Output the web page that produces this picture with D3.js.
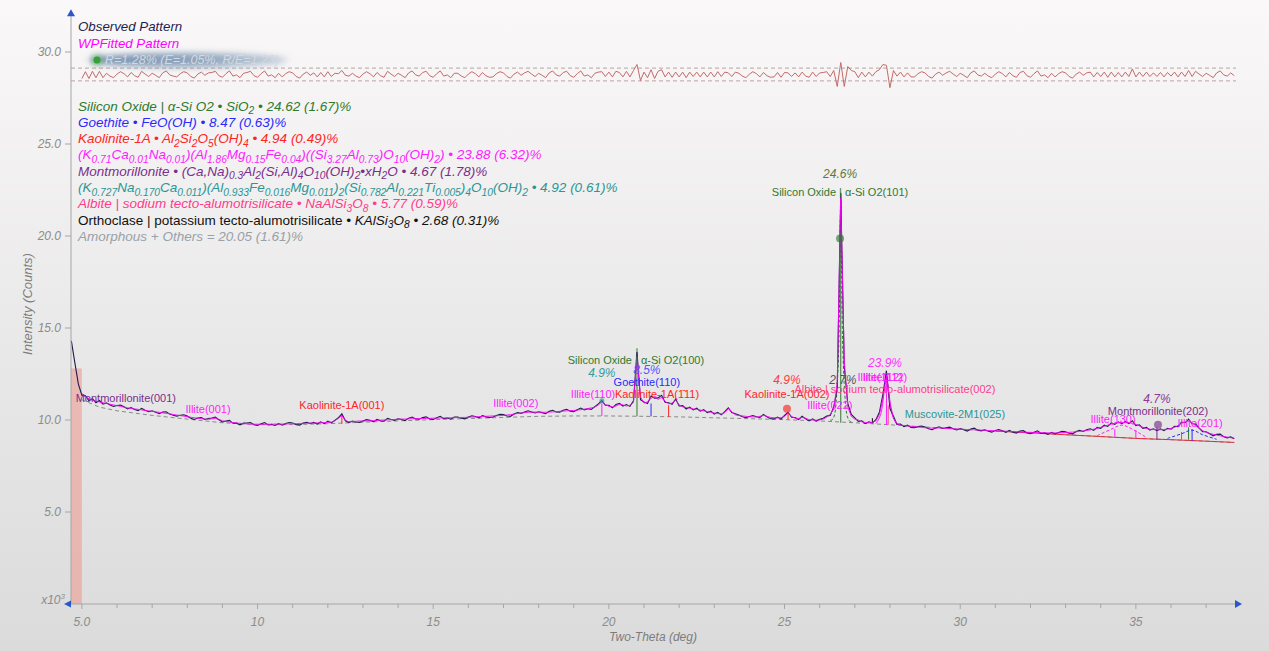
<!DOCTYPE html>
<html>
<head>
<meta charset="utf-8">
<script src="https://cdn.jsdelivr.net/npm/d3@7"></script>
<style>
  html, body { margin: 0; padding: 0; background: #eeeeee; }
  svg { display: block; font-family: "Liberation Sans", Arial, sans-serif; }
</style>
</head>
<body>
<svg id="chart" width="1269" height="651"></svg>
<script>
// scan grid: 2-theta starts at 4.7 deg, 0.1 deg per step
const thetaStart = 4.7, thetaStep = 0.1;

// observed intensity, x10^3 counts
const observed = [
  14.3, 13.1, 11.95, 11.35, 11.32, 11.05, 11.16, 10.94, 11.06, 10.86,
  10.93, 10.82, 10.74, 10.79, 10.81, 10.72, 10.6, 10.68, 10.57, 10.51,
  10.63, 10.53, 10.45, 10.5, 10.42, 10.34, 10.43, 10.45, 10.32, 10.26,
  10.21, 10.26, 10.28, 10.22, 10.1, 10.03, 10.11, 10.13, 10.03, 10.08,
  10.11, 10.16, 10.01, 9.89, 9.94, 9.98, 9.82, 9.83, 9.74, 9.83,
  9.84, 9.86, 9.74, 9.7, 9.79, 9.86, 9.73, 9.76, 9.7, 9.81,
  9.72, 9.81, 9.86, 9.84, 9.75, 9.72, 9.83, 9.88, 9.81, 9.87,
  9.78, 9.9, 9.8, 9.94, 9.84, 9.98, 10.12, 10.34, 9.96, 9.86,
  9.94, 9.89, 9.87, 9.95, 10.02, 9.98, 9.91, 10.03, 9.96, 9.93,
  10.09, 10.03, 9.98, 10.07, 10.03, 9.97, 10.1, 10.16, 10.06, 10.04,
  10.13, 10.17, 10.06, 10.03, 10.12, 10.2, 10.07, 10.11, 10.04, 10.16,
  10.16, 10.1, 10.06, 10.16, 10.23, 10.19, 10.12, 10.24, 10.17, 10.14,
  10.16, 10.25, 10.31, 10.29, 10.22, 10.2, 10.33, 10.41, 10.36, 10.44,
  10.5, 10.44, 10.38, 10.45, 10.4, 10.34, 10.47, 10.53, 10.44, 10.43,
  10.53, 10.58, 10.48, 10.45, 10.56, 10.65, 10.55, 10.61, 10.58, 10.73,
  10.88, 11.05, 10.8, 10.8, 10.66, 10.84, 10.9, 10.76, 10.84, 10.74,
  11.05, 13.7, 11.1, 10.98, 10.9, 11.3, 11.18, 11.2, 11.34, 10.96,
  10.94, 10.85, 11.14, 10.76, 10.78, 10.6, 10.7, 10.55, 10.64, 10.48,
  10.56, 10.4, 10.48, 10.32, 10.42, 10.28, 10.46, 10.66, 10.4, 10.34,
  10.27, 10.18, 10.12, 10.19, 10.24, 10.18, 10.14, 10.3, 10.17, 10.07,
  10.06, 10.16, 10.05, 10.25, 10.42, 10.15, 10.14, 10.02, 10.2, 10.06,
  9.95, 10.06, 9.94, 10.04, 10.1, 10.22, 10.25, 10.7, 11.7, 22.35,
  12.9, 10.9, 10.3, 10.12, 9.92, 9.96, 9.8, 9.9, 9.84, 10.02,
  10.42, 11.4, 12.68, 10.62, 10.2, 9.76, 9.78, 9.64, 9.72, 9.6,
  9.58, 9.64, 9.67, 9.62, 9.52, 9.47, 9.57, 9.63, 9.54, 9.58,
  9.61, 9.53, 9.46, 9.53, 9.47, 9.4, 9.51, 9.56, 9.45, 9.41,
  9.47, 9.39, 9.34, 9.43, 9.48, 9.42, 9.33, 9.43, 9.34, 9.29,
  9.4, 9.42, 9.3, 9.26, 9.34, 9.41, 9.27, 9.3, 9.22, 9.33,
  9.24, 9.32, 9.38, 9.36, 9.28, 9.25, 9.37, 9.44, 9.38, 9.47,
  9.52, 9.44, 9.6, 9.55, 9.72, 9.65, 9.84, 9.76, 9.9, 9.8,
  9.92, 9.8, 9.96, 9.7, 9.74, 9.55, 9.6, 9.45, 9.52, 9.42,
  9.52, 9.42, 9.55, 9.5, 9.66, 9.64, 9.88, 9.85, 10.05, 9.8,
  9.78, 9.56, 9.37, 9.36, 9.25, 9.14, 9.22, 9.23, 9.09, 9.03,
  9.08, 8.98
];

// whole-pattern fit, same grid (nothing below 5.0 deg: excluded range)
const fitted = [
  null, null, null, 11.45, 11.25, 11.15, 11.08, 11.02, 10.98, 10.94,
  10.9, 10.86, 10.82, 10.78, 10.74, 10.7, 10.66, 10.63, 10.6, 10.58,
  10.55, 10.52, 10.5, 10.47, 10.44, 10.42, 10.39, 10.36, 10.33, 10.3,
  10.27, 10.24, 10.21, 10.18, 10.15, 10.12, 10.1, 10.07, 10.05, 10.04,
  10.06, 10.08, 10.04, 9.96, 9.92, 9.89, 9.86, 9.84, 9.82, 9.8,
  9.79, 9.78, 9.77, 9.77, 9.77, 9.77, 9.77, 9.77, 9.78, 9.78,
  9.78, 9.79, 9.79, 9.8, 9.8, 9.81, 9.82, 9.82, 9.83, 9.83,
  9.84, 9.85, 9.86, 9.87, 9.89, 9.95, 10.1, 10.24, 9.98, 9.9,
  9.91, 9.93, 9.95, 9.94, 9.95, 9.96, 9.97, 9.98, 9.99, 10.0,
  10.01, 10.02, 10.03, 10.04, 10.05, 10.05, 10.06, 10.07, 10.07, 10.08,
  10.08, 10.09, 10.09, 10.1, 10.1, 10.11, 10.11, 10.12, 10.12, 10.13,
  10.13, 10.14, 10.14, 10.15, 10.16, 10.17, 10.18, 10.19, 10.2, 10.21,
  10.22, 10.23, 10.24, 10.25, 10.27, 10.29, 10.32, 10.35, 10.38, 10.4,
  10.42, 10.43, 10.43, 10.42, 10.42, 10.42, 10.43, 10.44, 10.45, 10.47,
  10.48, 10.5, 10.51, 10.52, 10.54, 10.56, 10.59, 10.62, 10.66, 10.7,
  10.82, 10.98, 10.85, 10.74, 10.72, 10.76, 10.85, 10.82, 10.76, 10.8,
  10.95, 13.45, 11.25, 10.92, 10.98, 11.18, 11.28, 11.12, 11.22, 11.02,
  10.88, 10.92, 11.08, 10.82, 10.72, 10.68, 10.64, 10.6, 10.58, 10.54,
  10.5, 10.46, 10.42, 10.38, 10.35, 10.33, 10.4, 10.62, 10.45, 10.28,
  10.24, 10.22, 10.2, 10.18, 10.17, 10.16, 10.2, 10.25, 10.2, 10.14,
  10.12, 10.11, 10.12, 10.2, 10.38, 10.2, 10.1, 10.08, 10.14, 10.1,
  10.02, 10.0, 9.99, 10.0, 10.05, 10.15, 10.3, 10.6, 12.0, 22.05,
  13.2, 10.7, 10.2, 10.05, 10.0, 9.9, 9.86, 9.84, 9.88, 9.95,
  10.3, 11.15, 12.45, 10.95, 10.1, 9.8, 9.72, 9.7, 9.68, 9.66,
  9.64, 9.62, 9.6, 9.58, 9.57, 9.56, 9.56, 9.57, 9.56, 9.54,
  9.53, 9.52, 9.51, 9.5, 9.49, 9.48, 9.47, 9.47, 9.46, 9.45,
  9.44, 9.43, 9.42, 9.42, 9.41, 9.4, 9.39, 9.38, 9.37, 9.36,
  9.35, 9.34, 9.33, 9.33, 9.32, 9.32, 9.31, 9.31, 9.3, 9.3,
  9.3, 9.3, 9.31, 9.32, 9.33, 9.34, 9.36, 9.38, 9.4, 9.43,
  9.46, 9.5, 9.55, 9.6, 9.66, 9.72, 9.78, 9.82, 9.85, 9.86,
  9.86, 9.85, 9.82, 9.76, 9.68, 9.6, 9.54, 9.5, 9.48, 9.47,
  9.47, 9.48, 9.5, 9.54, 9.6, 9.7, 9.82, 9.9, 9.95, 9.85,
  9.7, 9.55, 9.42, 9.33, 9.27, 9.22, 9.18, 9.14, 9.1, 9.07,
  9.04, 9.01
];

// background, [2theta, intensity]
const background = [
  [5.0, 11.1], [5.5, 10.7], [6, 10.5], [7, 10.25], [8, 10.05], [9, 9.85], [10, 9.75],
  [11, 9.75], [12, 9.8], [13, 9.88], [14, 9.95], [15, 10.02], [16, 10.08], [17, 10.14],
  [18, 10.2], [19, 10.22], [20, 10.22], [21, 10.2], [22, 10.17], [23, 10.12], [24, 10.07],
  [25, 10.02], [26, 9.95], [27, 9.85], [28, 9.74], [29, 9.62], [30, 9.5], [31, 9.4],
  [32, 9.3], [33, 9.2], [34, 9.1], [35, 9.0], [36, 8.93], [37, 8.85], [37.8, 8.78]
];

// a few single-phase profiles
const quartzProfile = [[26.3, 10.0], [26.45, 10.6], [26.55, 14.5], [26.6, 22.0], [26.65, 14.5], [26.75, 10.6], [26.9, 9.9]];
const illiteProfile112 = [[27.6, 9.8], [27.75, 10.4], [27.85, 11.8], [27.9, 12.4], [27.95, 11.8], [28.05, 10.4], [28.2, 9.75]];
const illiteProfile130 = [[33.9, 9.15], [34.3, 9.5], [34.6, 9.72], [34.9, 9.5], [35.3, 9.05]];
const goethiteProfile = [[35.9, 9.0], [36.3, 9.25], [36.6, 9.45], [36.9, 9.2], [37.3, 8.95]];

// reflection sticks: [phase, 2theta, top]
const sticks = [
  ["quartz", 20.8, 13.9], ["quartz", 26.6, 22.3], ["quartz", 36.5, 9.6],
  ["goethite", 21.2, 10.9], ["goethite", 36.6, 9.5],
  ["kaolinite", 12.4, 10.3], ["kaolinite", 21.7, 10.8], ["kaolinite", 25.1, 10.4],
  ["illite", 19.8, 10.9], ["illite", 27.9, 12.6], ["illite", 34.4, 9.5], ["illite", 35.0, 9.45], ["illite", 36.3, 9.35],
  ["montmorillonite", 35.6, 9.6], ["orthoclase", 27.5, 10.1], ["albite", 27.95, 10.8]
];

// peak labels: [text, 2theta, intensity, phase]
const peakLabels = [
  ["Montmorillonite(001)", 6.25, 10.99, "montmorillonite"],
  ["Illite(001)", 8.59, 10.39, "illite"],
  ["Kaolinite-1A(001)", 12.4, 10.61, "kaolinite"],
  ["Illite(002)", 17.35, 10.72, "illite"],
  ["Silicon Oxide | α-Si O2(100)", 20.77, 13.06, "quartz"],
  ["Goethite(110)", 21.08, 11.86, "goethite"],
  ["Illite(110)", 19.55, 11.21, "illite"],
  ["Kaolinite-1A(1̄11)", 21.37, 11.21, "kaolinite"],
  ["Kaolinite-1A(002)", 25.07, 11.21, "kaolinite"],
  ["Albite | sodium tecto-alumotrisilicate(002)", 28.14, 11.48, "albite"],
  ["Illite(022)", 26.29, 10.61, "illite"],
  ["Silicon Oxide | α-Si O2(101)", 26.58, 22.2, "quartz"],
  ["Illite(112)", 27.86, 12.14, "illite"],
  ["Illite(1̄12)", 27.72, 12.14, "illite"],
  ["Muscovite-2M1(025)", 29.85, 10.12, "muscovite"],
  ["Montmorillonite(202)", 35.63, 10.29, "montmorillonite"],
  ["Illite(130)", 34.35, 9.85, "illite"],
  ["Illite(201)", 36.83, 9.63, "illite"]
];

// phase percentage labels: [text, 2theta, intensity, phase]
const pctLabels = [
  ["24.6%", 26.58, 23.13, "quartz"],
  ["4.9%", 19.8, 12.35, "muscovite"],
  ["8.5%", 21.08, 12.52, "goethite"],
  ["4.9%", 25.07, 11.97, "kaolinite"],
  ["2.7%", 26.66, 11.97, "orthoclase"],
  ["23.9%", 27.86, 12.9, "illite"],
  ["4.7%", 35.6, 10.94, "montmorillonite"]
];

// dots on strongest peaks: [2theta, intensity, phase]
const peakDots = [[26.58, 19.86, "quartz"], [25.07, 10.61, "kaolinite"], [35.63, 9.74, "montmorillonite"], [19.8, 11.05, "muscovite"]];

// phase list text, _{..} marks subscripts
const phaseLines = [
  ["Silicon Oxide | α-Si O2 • SiO_{2} • 24.62 (1.67)%", "quartz"],
  ["Goethite • FeO(OH) • 8.47 (0.63)%", "goethite"],
  ["Kaolinite-1A • Al_{2}Si_{2}O_{5}(OH)_{4} • 4.94 (0.49)%", "kaolinite"],
  ["(K_{0.71}Ca_{0.01}Na_{0.01})(Al_{1.86}Mg_{0.15}Fe_{0.04})((Si_{3.27}Al_{0.73})O_{10}(OH)_{2}) • 23.88 (6.32)%", "illite"],
  ["Montmorillonite • (Ca,Na)_{0.3}Al_{2}(Si,Al)_{4}O_{10}(OH)_{2}•xH_{2}O • 4.67 (1.78)%", "montmorillonite"],
  ["(K_{0.727}Na_{0.170}Ca_{0.011})(Al_{0.933}Fe_{0.016}Mg_{0.011})_{2}(Si_{0.782}Al_{0.221}Ti_{0.005})_{4}O_{10}(OH)_{2} • 4.92 (0.61)%", "muscovite"],
  ["Albite | sodium tecto-alumotrisilicate • NaAlSi_{3}O_{8} • 5.77 (0.59)%", "albite"],
  ["Orthoclase | potassium tecto-alumotrisilicate • KAlSi_{3}O_{8} • 2.68 (0.31)%", "orthoclase"],
  ["Amorphous + Others = 20.05 (1.61)%", "amorphous"]
];

const yTicks = [5, 10, 15, 20, 25, 30];
const xMajorTicks = [5, 10, 15, 20, 25, 30, 35];
const xTickLabels = ["5.0", "10", "15", "20", "25", "30", "35"];
const excluded = [4.69, 5.0];

const colors = {
  quartz: "#2f7a2f", goethite: "#2a2aff", kaolinite: "#ff2424", illite: "#ff1cff",
  montmorillonite: "#7a2e8c", muscovite: "#2a9696", albite: "#ff3c8c", orthoclase: "#111111",
  amorphous: "#98a0a8"
};
const pctColors = {
  quartz: "#5c7a3c", muscovite: "#3a9a9a", goethite: "#5555ff", kaolinite: "#ff3a3a",
  orthoclase: "#555555", illite: "#ff33ff", montmorillonite: "#8a3a9a"
};

const svg = d3.select("#chart");
const defs = svg.append("defs");
const bg = defs.append("linearGradient").attr("id", "bg").attr("x1", 0).attr("y1", 0).attr("x2", 0).attr("y2", 1);
bg.append("stop").attr("offset", "0%").attr("stop-color", "#faf8f8");
bg.append("stop").attr("offset", "100%").attr("stop-color", "#dbdbdb");
defs.append("filter").attr("id", "blur").attr("x", "-20%").attr("y", "-100%").attr("width", "140%").attr("height", "300%")
  .append("feGaussianBlur").attr("stdDeviation", 3);
const hl = defs.append("linearGradient").attr("id", "hl");
hl.append("stop").attr("offset", "0%").attr("stop-color", "#6a88ab").attr("stop-opacity", 0.95);
hl.append("stop").attr("offset", "60%").attr("stop-color", "#8099b6").attr("stop-opacity", 0.85);
hl.append("stop").attr("offset", "100%").attr("stop-color", "#9cb1c8").attr("stop-opacity", 0.6);

svg.append("rect").attr("width", 1269).attr("height", 651).attr("fill", "url(#bg)");

const x = d3.scaleLinear().domain([4.69, 37.85]).range([71, 1236]);
const y = d3.scaleLinear().domain([0, 32]).range([604, 15.2]);
const rY = d3.scaleLinear().domain([-0.4, 0.4]).range([90.5, 58.5]);
const theta = i => thetaStart + i * thetaStep;

// excluded region
svg.append("rect")
  .attr("x", x(excluded[0])).attr("width", x(excluded[1]) - x(excluded[0]))
  .attr("y", y(12.8)).attr("height", y(0) - y(12.8))
  .attr("fill", "#ec9b92").attr("opacity", 0.6);

// residual band
[-0.16, 0.16].forEach(v => {
  svg.append("line").attr("x1", x.range()[0]).attr("x2", x.range()[1])
    .attr("y1", rY(v)).attr("y2", rY(v))
    .attr("stroke", "#bca2a2").attr("stroke-dasharray", "4,3").attr("stroke-width", 1);
});
const resid = observed.map((d, i) => fitted[i] == null ? null : d - fitted[i]);
svg.append("path")
  .attr("d", d3.line().defined(d => d != null).x((d, i) => x(theta(i))).y(d => rY(d))(resid))
  .attr("fill", "none").attr("stroke", "#c46a6a").attr("stroke-width", 1);

const lineXY = d3.line().x(d => x(d[0])).y(d => y(d[1]));

// background
svg.append("path").attr("d", lineXY(background))
  .attr("fill", "none").attr("stroke", "#8a8a8a").attr("stroke-dasharray", "4,3").attr("stroke-width", 1);
svg.append("path").attr("d", lineXY(background.filter(d => d[0] >= 31)))
  .attr("fill", "none").attr("stroke", "#e0303a").attr("stroke-width", 1);

// sticks
svg.selectAll(".stick").data(sticks).enter().append("line")
  .attr("x1", d => x(d[1])).attr("x2", d => x(d[1]))
  .attr("y1", d => y(d3.least(background, b => Math.abs(b[0] - d[1]))[1]))
  .attr("y2", d => y(d[2]))
  .attr("stroke", d => colors[d[0]]).attr("stroke-width", 1);

// single-phase profiles
[[quartzProfile, "quartz", "3,2"], [illiteProfile112, "illite", null], [illiteProfile130, "illite", "3,2"], [goethiteProfile, "goethite", "3,2"]]
  .forEach(([p, ph, dash]) => {
    svg.append("path").attr("d", d3.line().curve(d3.curveCardinal).x(d => x(d[0])).y(d => y(d[1]))(p))
      .attr("fill", "none").attr("stroke", colors[ph]).attr("stroke-width", 1)
      .attr("stroke-dasharray", dash);
  });

// observed and fitted
svg.append("path")
  .attr("d", d3.line().x((d, i) => x(theta(i))).y(d => y(d))(observed))
  .attr("fill", "none").attr("stroke", "#1c1c4e").attr("stroke-width", 1.1);
svg.append("path")
  .attr("d", d3.line().defined(d => d != null).x((d, i) => x(theta(i))).y(d => y(d))(fitted))
  .attr("fill", "none").attr("stroke", "#ff00ff").attr("stroke-width", 1).attr("opacity", 0.9);

// dots
svg.selectAll(".pdot").data(peakDots).enter().append("circle")
  .attr("cx", d => x(d[0])).attr("cy", d => y(d[1])).attr("r", d => d[2] === "muscovite" ? 2.5 : 4)
  .attr("fill", d => colors[d[2]]).attr("opacity", 0.65);

// labels
svg.selectAll(".plab").data(peakLabels).enter().append("text")
  .attr("x", d => x(d[1])).attr("y", d => y(d[2]))
  .attr("text-anchor", "middle").attr("font-size", 11)
  .attr("fill", d => colors[d[3]]).text(d => d[0]);
svg.selectAll(".pct").data(pctLabels).enter().append("text")
  .attr("x", d => x(d[1])).attr("y", d => y(d[2]))
  .attr("text-anchor", "middle").attr("font-size", 12).attr("font-style", "italic")
  .attr("fill", d => pctColors[d[3]]).text(d => d[0]);

// axes
const axisColor = "#a6a6a6";
const gx = svg.append("g").attr("transform", `translate(0,${y(0)})`);
gx.append("line").attr("x1", x.range()[0]).attr("x2", x.range()[1]).attr("stroke", axisColor);
gx.selectAll(".mt").data(d3.range(5, 38)).enter().append("line")
  .attr("x1", d => x(d)).attr("x2", d => x(d)).attr("y1", 0)
  .attr("y2", d => xMajorTicks.includes(d) ? 5 : 4).attr("stroke", axisColor);
gx.selectAll(".xl").data(xMajorTicks).enter().append("text")
  .attr("x", d => x(d)).attr("y", 22).attr("text-anchor", "middle")
  .attr("font-size", 12).attr("font-style", "italic").attr("fill", "#8c8c8c")
  .text((d, i) => xTickLabels[i]);

const gy = svg.append("g").attr("transform", `translate(${x.range()[0]},0)`);
gy.append("line").attr("y1", y(0)).attr("y2", y.range()[1]).attr("stroke", axisColor);
gy.selectAll(".yt").data(yTicks).enter().append("line")
  .attr("x1", -6).attr("x2", 0).attr("y1", d => y(d)).attr("y2", d => y(d)).attr("stroke", axisColor);
gy.selectAll(".yl").data(yTicks).enter().append("text")
  .attr("x", -10).attr("y", d => y(d) + 4).attr("text-anchor", "end")
  .attr("font-size", 12).attr("font-style", "italic").attr("fill", "#8c8c8c")
  .text(d => d3.format(".1f")(d));
const xm = gy.append("text").attr("x", -6).attr("y", y(0)).attr("text-anchor", "end")
  .attr("font-size", 12).attr("font-style", "italic").attr("fill", "#8c8c8c");
xm.append("tspan").text("x10");
xm.append("tspan").attr("dy", -5).attr("font-size", 8).text("3");

// axis arrows
const arrowColor = "#2c55c9";
const x0 = x.range()[0], x1 = x.range()[1], y0 = y(0), y1 = y.range()[1];
svg.append("path").attr("d", `M${x0},${y1 - 6}L${x0 - 4},${y1 + 1}L${x0 + 4},${y1 + 1}Z`).attr("fill", arrowColor);
svg.append("path").attr("d", `M${x1 + 6},${y0}L${x1 - 1},${y0 - 4}L${x1 - 1},${y0 + 4}Z`).attr("fill", arrowColor);
svg.append("path").attr("d", `M${x0 - 7},${y0}L${x0},${y0 - 3.5}L${x0},${y0 + 3.5}Z`).attr("fill", arrowColor);

svg.append("text").attr("x", 653).attr("y", 641).attr("text-anchor", "middle")
  .attr("font-size", 12).attr("font-style", "italic").attr("fill", "#7c7c7c").text("Two-Theta (deg)");
svg.append("text").attr("transform", "translate(32,304) rotate(-90)").attr("text-anchor", "middle")
  .attr("font-size", 13).attr("font-style", "italic").attr("fill", "#7c7c7c").text("Intensity (Counts)");

// legend
svg.append("text").attr("x", 78).attr("y", 31).attr("font-size", 13.3).attr("font-style", "italic")
  .attr("fill", "#1e1e50").text("Observed Pattern");
svg.append("text").attr("x", 78).attr("y", 48).attr("font-size", 13.3).attr("font-style", "italic")
  .attr("fill", "#ff00ff").text("WPFitted Pattern");
svg.append("ellipse").attr("cx", 188).attr("cy", 60).attr("rx", 100).attr("ry", 7)
  .attr("fill", "url(#hl)").attr("filter", "url(#blur)");
svg.append("circle").attr("cx", 97).attr("cy", 60).attr("r", 5.5).attr("fill", "#3b9a3b").attr("opacity", 0.5).attr("filter", "url(#blur)");
svg.append("circle").attr("cx", 97).attr("cy", 60).attr("r", 3.5).attr("fill", "#35a035");
svg.append("text").attr("x", 105).attr("y", 64).attr("font-size", 12.5).attr("font-style", "italic")
  .attr("fill", "#d2d9e0").text("R=1.28% (E=1.05%, R/E=1.23)");

function richText(sel, str) {
  const re = /_\{([^}]*)\}/g;
  let last = 0, m, shifted = false;
  const push = (t, sub) => {
    if (!t) return;
    const ts = sel.append("tspan").text(t);
    if (sub) { ts.attr("font-size", "0.76em"); if (!shifted) { ts.attr("dy", 3.5); shifted = true; } }
    else if (shifted) { ts.attr("dy", -3.5); shifted = false; }
  };
  while ((m = re.exec(str))) {
    push(str.slice(last, m.index), false);
    push(m[1], true);
    last = re.lastIndex;
  }
  push(str.slice(last), false);
}

phaseLines.forEach((d, i) => {
  const t = svg.append("text").attr("x", 78).attr("y", 110.5 + i * 16.3)
    .attr("font-size", 13.5).attr("font-style", "italic").attr("fill", colors[d[1]]);
  if (d[1] === "orthoclase") {
    const k = d[0].indexOf(" • ");
    t.append("tspan").attr("font-style", "normal").text(d[0].slice(0, k));
    richText(t, d[0].slice(k));
  } else {
    richText(t, d[0]);
  }
});
</script>
</body>
</html>
